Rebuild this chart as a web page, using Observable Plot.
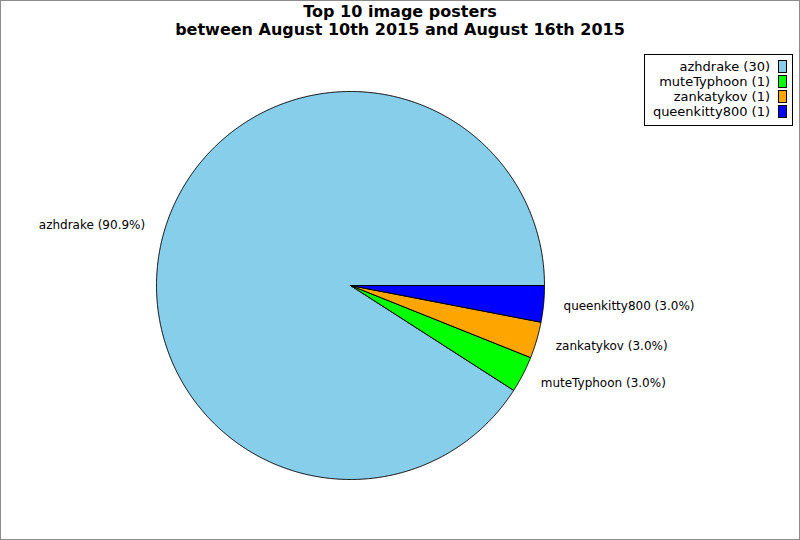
<!DOCTYPE html>
<html>
<head>
<meta charset="utf-8">
<script src="https://cdn.jsdelivr.net/npm/d3@7"></script>
<script src="https://cdn.jsdelivr.net/npm/@observablehq/plot@0.6"></script>
<style>
  html, body { margin: 0; padding: 0; background: #fff; }
  #chart { position: relative; width: 800px; height: 540px; box-sizing: border-box; border: 1px solid #8c8c8c; font-family: "DejaVu Sans", sans-serif; overflow: hidden; }
  #title { height: 40px; text-align: center; font-weight: bold; font-size: 16px; line-height: 18px; padding-top: 2px; box-sizing: border-box; color: #000; }
  #legend { position: absolute; left: 643px; top: 53px; width: 149px; height: 72px; box-sizing: border-box; border: 1px solid #000; background: #fff; padding-top: 4px; }
  .row { display: flex; justify-content: flex-end; align-items: center; height: 15px; font-size: 13px; padding-right: 5px; }
  .sw { display: inline-block; width: 7px; height: 11px; border: 1px solid #000; margin-left: 8px; }
  svg { display: block; }
</style>
</head>
<body>
<div id="chart">
  <div id="title"><div>Top 10 image posters</div><div>between August 10th 2015 and August 16th 2015</div></div>
  <div id="plot"></div>
  <div id="legend"></div>
</div>
<script>
const names = ["azhdrake", "muteTyphoon", "zankatykov", "queenkitty800"];
const counts = [30, 1, 1, 1];
const colors = ["#87ceeb", "#00ff00", "#ffa500", "#0000ff"];

const total = d3.sum(counts);
let cum = 0;
const slices = names.map((n, i) => {
  const a0 = cum / total * 2 * Math.PI;
  cum += counts[i];
  const a1 = cum / total * 2 * Math.PI;
  const mid = (a0 + a1) / 2;
  return {name: n, count: counts[i], a0, a1, mid, pct: counts[i] / total * 100,
          lx: 1.103 * Math.cos(mid), ly: 1.103 * Math.sin(mid)};
});
const pts = slices.flatMap(s => {
  const steps = Math.max(2, Math.ceil((s.a1 - s.a0) / (Math.PI / 720)));
  const arr = [{name: s.name, x: 0, y: 0}];
  for (let k = 0; k <= steps; k++) {
    const a = s.a0 + (s.a1 - s.a0) * k / steps;
    arr.push({name: s.name, x: Math.cos(a), y: Math.sin(a)});
  }
  arr.push({name: s.name, x: 0, y: 0});
  return arr;
});
const label = d => `${d.name} (${d.pct.toFixed(1)}%)`;

const cx = 349, cy = 244, r = 194;
const plot = Plot.plot({
  width: 798,
  height: 498,
  margin: 0,
  style: {fontFamily: "DejaVu Sans, sans-serif", fontSize: "12px", background: "transparent", color: "#000"},
  x: {domain: [-1, 1], range: [cx - r, cx + r], axis: null},
  y: {domain: [-1, 1], range: [cy + r, cy - r], axis: null},
  color: {domain: names, range: colors},
  marks: [
    Plot.line(pts, {x: "x", y: "y", z: "name", fill: "name", stroke: "#000", strokeWidth: 1, strokeLinejoin: "round", curve: "linear"}),
    Plot.text(slices.filter(s => Math.cos(s.mid) >= 0), {x: "lx", y: "ly", text: label, textAnchor: "start", fill: "#000", fontSize: 12}),
    Plot.text(slices.filter(s => Math.cos(s.mid) < 0), {x: "lx", y: "ly", text: label, textAnchor: "end", fill: "#000", fontSize: 12})
  ]
});
document.getElementById("plot").appendChild(plot);

const legend = document.getElementById("legend");
names.forEach((n, i) => {
  const row = document.createElement("div");
  row.className = "row";
  const t = document.createElement("span");
  t.textContent = `${n} (${counts[i]})`;
  const sw = document.createElement("span");
  sw.className = "sw";
  sw.style.background = colors[i];
  row.appendChild(t);
  row.appendChild(sw);
  legend.appendChild(row);
});
</script>
</body>
</html>
